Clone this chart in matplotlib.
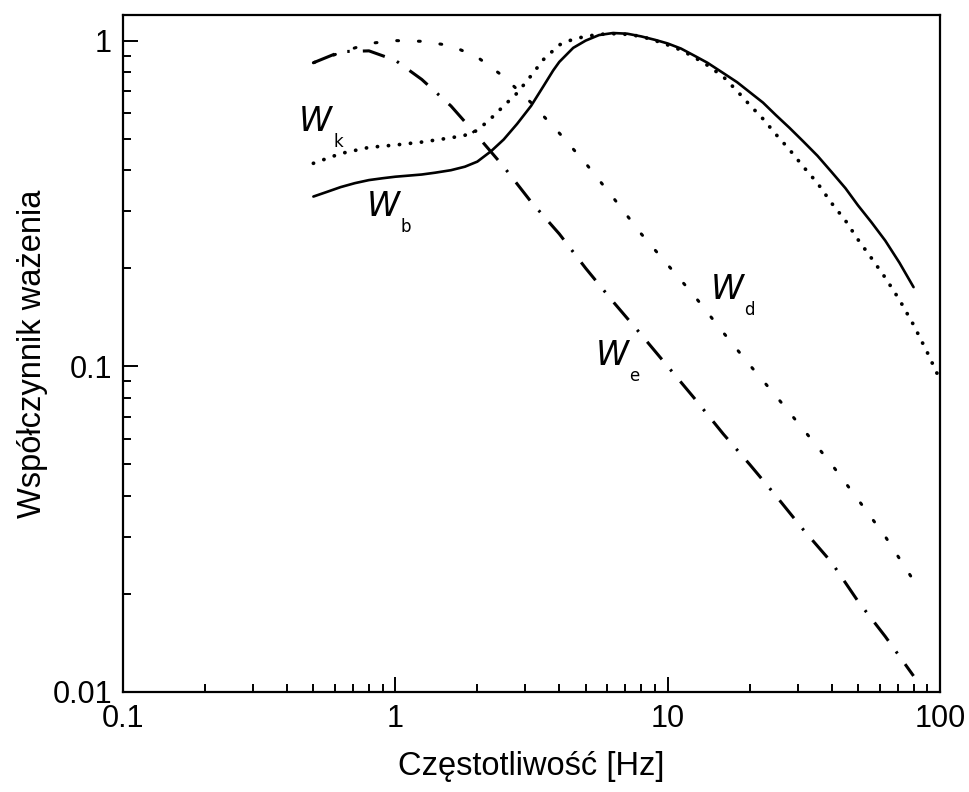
import matplotlib
matplotlib.use("Agg")
import matplotlib.pyplot as plt
from matplotlib.ticker import LogLocator, FixedLocator, NullFormatter

# ---- data ----
f_wb = [0.5, 0.56, 0.63, 0.71, 0.8, 0.9, 1.0, 1.12, 1.25, 1.4, 1.6, 1.8, 2.0, 2.25, 2.5, 2.8,
        3.15, 3.5, 3.8, 4.0, 4.5, 5.0, 5.6, 6.3, 7.1, 8.0, 9.0, 10, 11.2, 12.5, 14, 16, 18,
        20, 22.4, 25, 28, 31.5, 35.5, 40, 45, 50, 56, 63, 71, 80]
w_wb = [0.332, 0.343, 0.355, 0.365, 0.373, 0.378, 0.382, 0.385, 0.388, 0.393, 0.40, 0.41,
        0.425, 0.458, 0.497, 0.555, 0.63, 0.725, 0.81, 0.86, 0.95, 1.0, 1.04, 1.055, 1.05,
        1.03, 1.005, 0.98, 0.945, 0.90, 0.855, 0.795, 0.745, 0.695, 0.645, 0.59, 0.54, 0.49,
        0.443, 0.395, 0.352, 0.312, 0.277, 0.243, 0.208, 0.175]

f_wk = [0.5, 0.63, 0.8, 1.0, 1.25, 1.6, 1.8, 2.0, 2.25, 2.5, 2.8, 3.15, 3.5, 4.0, 4.5, 5.0,
        5.6, 6.3, 7.1, 8.0, 9.0, 10, 11.2, 12.5, 14, 16, 18, 20, 22.4, 25, 28, 31.5, 35.5,
        40, 45, 50, 56, 63, 71, 80, 90, 100]
w_wk = [0.42, 0.45, 0.47, 0.478, 0.488, 0.503, 0.512, 0.53, 0.578, 0.63, 0.69, 0.78, 0.875,
        0.97, 1.01, 1.03, 1.045, 1.05, 1.045, 1.03, 1.0, 0.97, 0.935, 0.89, 0.84, 0.775,
        0.70, 0.635, 0.575, 0.515, 0.463, 0.41, 0.365, 0.317, 0.28, 0.245, 0.215, 0.187,
        0.16, 0.134, 0.11, 0.091]

f_wd = [0.5, 0.63, 0.8, 1.0, 1.25, 1.6, 2.0, 2.5, 3.15, 4.0, 5.0, 6.3, 8.0, 10, 12.5, 16,
        20, 25, 31.5, 40, 50, 63, 80]
w_wd = [0.855, 0.92, 0.98, 1.0, 0.995, 0.965, 0.89, 0.775, 0.645, 0.52, 0.42, 0.33, 0.255,
        0.205, 0.165, 0.127, 0.101, 0.081, 0.064, 0.050, 0.039, 0.030, 0.022]

f_we = [0.5, 0.63, 0.8, 1.0, 1.25, 1.6, 2.0, 2.5, 3.15, 4.0, 5.0, 6.3, 8.0, 10, 12.5, 16,
        20, 25, 31.5, 40, 50, 63, 80]
w_we = [0.855, 0.925, 0.93, 0.87, 0.76, 0.63, 0.51, 0.41, 0.32, 0.255, 0.20, 0.158, 0.125,
        0.10, 0.08, 0.062, 0.05, 0.04, 0.0315, 0.025, 0.019, 0.0148, 0.0112]

x_ticks = [0.1, 1, 10, 100]
x_ticklabels = ["0.1", "1", "10", "100"]
y_ticks = [0.01, 0.1, 1]
y_ticklabels = ["0.01", "0.1", "1"]

curve_labels = [("W", "k", 0.51, 0.564), ("W", "b", 0.9, 0.31),
                ("W", "d", 16.5, 0.172), ("W", "e", 6.25, 0.108)]

xlabel = "Częstotliwość [Hz]"
ylabel = "Współczynnik ważenia"

# ---- figure ----
plt.rcParams['font.family'] = ['Liberation Sans', 'DejaVu Sans']
fig = plt.figure(figsize=(9.69, 7.92), dpi=100)
ax = fig.add_axes([0.127, 0.1263, 0.843, 0.855])

ax.plot(f_wb, w_wb, color="black", lw=1.9, solid_capstyle="round")
ax.plot(f_wk, w_wk, color="black", lw=2.7, linestyle=(0, (0.05, 2.9)),
        dash_capstyle="round")
ax.plot(f_wd, w_wd, color="black", lw=2.2, linestyle=(0, (0.6, 6.5)),
        dash_capstyle="round")
ax.plot(f_we, w_we, color="black", lw=2.2, linestyle=(0, (7.5, 4.3, 0.8, 4.3)),
        dash_capstyle="butt")

ax.set_xscale("log")
ax.set_yscale("log")
ax.set_xlim(0.1, 100)
ax.set_ylim(0.01, 1.2)

ax.xaxis.set_major_locator(FixedLocator(x_ticks))
ax.set_xticklabels(x_ticklabels)
ax.xaxis.set_minor_locator(LogLocator(base=10, subs=range(2, 10), numticks=20))
ax.xaxis.set_minor_formatter(NullFormatter())
ax.yaxis.set_major_locator(FixedLocator(y_ticks))
ax.set_yticklabels(y_ticklabels)
ax.yaxis.set_minor_locator(LogLocator(base=10, subs=range(2, 10), numticks=20))
ax.yaxis.set_minor_formatter(NullFormatter())

ax.tick_params(which="both", direction="in", top=False, right=False,
               labelsize=22, width=1.4)
ax.tick_params(which="major", length=11)
ax.tick_params(which="minor", length=6)
ax.tick_params(axis="x", which="major", pad=9)
ax.tick_params(axis="y", which="major", pad=8)

for s in ax.spines.values():
    s.set_linewidth(1.6)

ax.set_xlabel(xlabel, fontsize=23.5, labelpad=12)
ax.set_ylabel(ylabel, fontsize=23.5, labelpad=3)

for big, sub, fx, fy in curve_labels:
    ax.text(fx, fy, big, fontsize=24, style="italic",
            family="DejaVu Sans", ha="center", va="center")
    ax.annotate(sub, xy=(fx, fy), xytext=(12.5, -15), textcoords="offset points",
                fontsize=12, family="DejaVu Sans", ha="left", va="center")

fig.savefig("out.png", dpi=100)
